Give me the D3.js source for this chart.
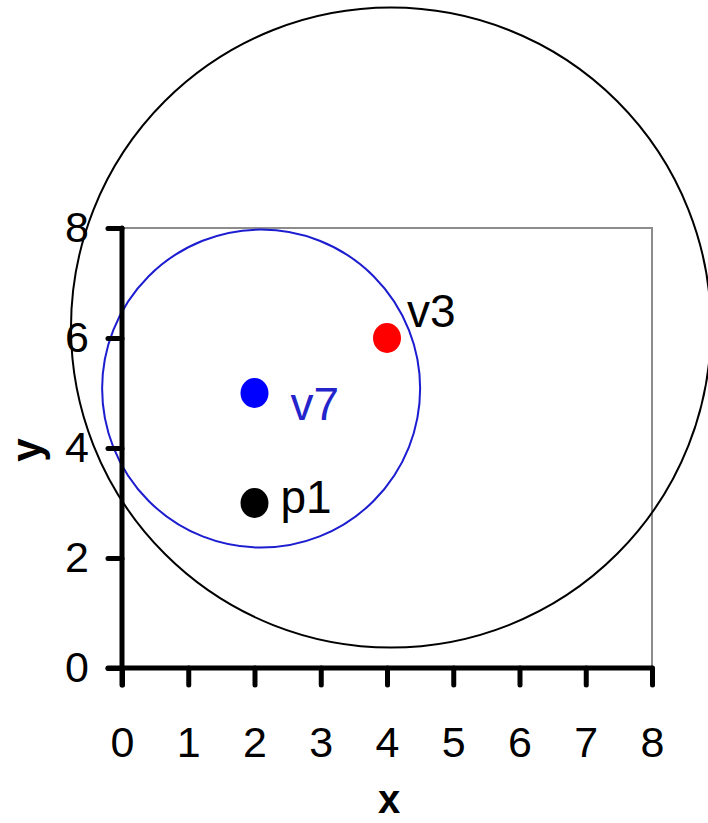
<!DOCTYPE html>
<html>
<head>
<meta charset="utf-8">
<script src="https://cdn.jsdelivr.net/npm/d3@7"></script>
<style>
  html, body { margin: 0; padding: 0; background: #fff; }
  svg { display: block; font-family: "Liberation Sans", Arial, sans-serif; }
</style>
</head>
<body>
<svg id="chart" width="708" height="823"></svg>
<script>
// Axis tick values
const xTicks = [0, 1, 2, 3, 4, 5, 6, 7, 8];
const yTicks = [0, 2, 4, 6, 8];

// Named points
const pointNames  = ["v3", "v7", "p1"];
const pointX      = [4, 2, 2];
const pointY      = [6, 5, 3];
const pointColors = ["#ff0000", "#0000ff", "#000000"];
const labelColors = ["#000000", "#2424cc", "#000000"];

// Circles: centre (x, y) and radius in x units
const circleCX     = [4.06, 2.1];
const circleCY     = [6.19, 5.08];
const circleR      = [4.83, 2.4];
const circleColors = ["#000000", "#1c1cd0"];

const svg = d3.select("#chart");
const x = d3.scaleLinear().domain([0, 8]).range([122, 652]);
const y = d3.scaleLinear().domain([0, 8]).range([668, 228]);

// Plot frame (top and right edges)
svg.append("path")
  .attr("d", `M${x(0)},${y(8)}H${x(8)}V${y(0)}`)
  .attr("fill", "none")
  .attr("stroke", "#8c8c8c")
  .attr("stroke-width", 2);

// Circles
svg.selectAll("circle.ring")
  .data(circleCX.map((cx, i) => ({cx, cy: circleCY[i], r: circleR[i], c: circleColors[i]})))
  .join("circle")
  .attr("class", "ring")
  .attr("cx", d => x(d.cx))
  .attr("cy", d => y(d.cy))
  .attr("r", d => x(d.r) - x(0))
  .attr("fill", "none")
  .attr("stroke", d => d.c)
  .attr("stroke-width", 2);

// Axes
const xAxis = d3.axisBottom(x).tickValues(xTicks).tickSize(17).tickPadding(41).tickFormat(d3.format("d"));
const yAxis = d3.axisLeft(y).tickValues(yTicks).tickSize(14).tickPadding(19).tickFormat(d3.format("d"));

const gx = svg.append("g").attr("transform", `translate(0,${y(0)})`).call(xAxis);
const gy = svg.append("g").attr("transform", `translate(${x(0)},0)`).call(yAxis);

[gx, gy].forEach(g => {
  g.select(".domain").remove();
  g.selectAll(".tick line")
    .attr("stroke", "#000")
    .attr("stroke-width", 5)
    .attr("stroke-linecap", "round");
  g.selectAll(".tick text")
    .attr("fill", "#000")
    .style("font-size", "43px")
    .style("font-family", "'Liberation Sans', Arial, sans-serif");
});
gx.selectAll(".tick text").attr("dy", "0.71em");

// Axis lines
svg.append("line")
  .attr("x1", x(0) - 14).attr("x2", x(8))
  .attr("y1", y(0)).attr("y2", y(0))
  .attr("stroke", "#000").attr("stroke-width", 5).attr("stroke-linecap", "round");
svg.append("line")
  .attr("x1", x(0)).attr("x2", x(0))
  .attr("y1", y(8)).attr("y2", y(0) + 17)
  .attr("stroke", "#000").attr("stroke-width", 5).attr("stroke-linecap", "round");

// Axis titles
svg.append("text")
  .attr("x", (x(0) + x(8)) / 2 + 2)
  .attr("y", 813)
  .attr("text-anchor", "middle")
  .style("font-size", "40px")
  .style("font-weight", "bold")
  .text("x");
svg.append("text")
  .attr("transform", `translate(41,${y(4) + 2}) rotate(-90)`)
  .attr("text-anchor", "middle")
  .style("font-size", "42px")
  .style("font-weight", "bold")
  .text("y");

// Points
const pts = pointNames.map((n, i) => ({n, px: pointX[i], py: pointY[i], c: pointColors[i], lc: labelColors[i]}));
svg.selectAll("ellipse.pt")
  .data(pts)
  .join("ellipse")
  .attr("class", "pt")
  .attr("cx", d => x(d.px))
  .attr("cy", d => y(d.py))
  .attr("rx", 14)
  .attr("ry", 15)
  .attr("fill", d => d.c);

// Point labels
const labelOffsets = {v3: [20, -11], v7: [36, 27], p1: [26, 10]};
svg.selectAll("text.lbl")
  .data(pts)
  .join("text")
  .attr("class", "lbl")
  .attr("x", d => x(d.px) + labelOffsets[d.n][0])
  .attr("y", d => y(d.py) + labelOffsets[d.n][1])
  .attr("fill", d => d.lc)
  .style("font-size", "46px")
  .text(d => d.n);
</script>
</body>
</html>
